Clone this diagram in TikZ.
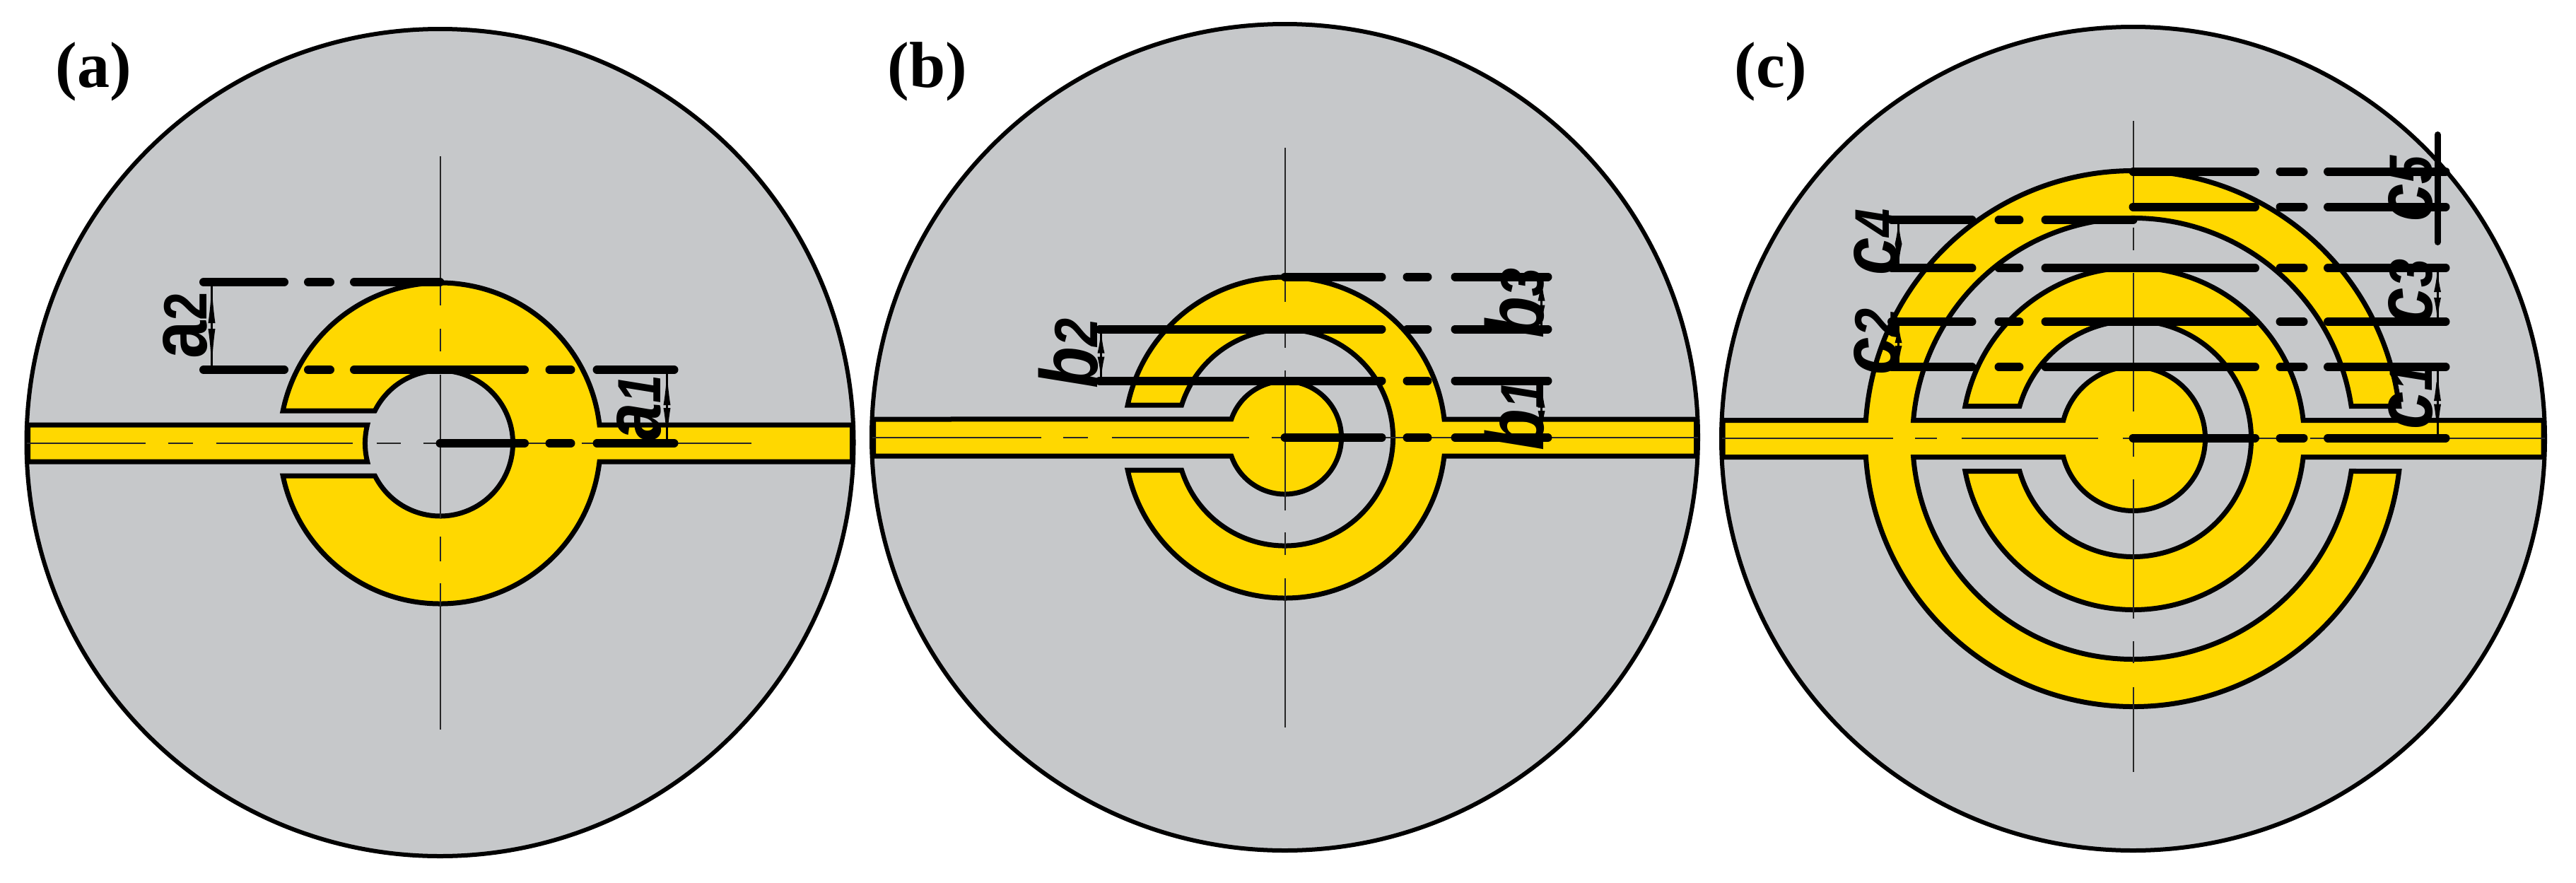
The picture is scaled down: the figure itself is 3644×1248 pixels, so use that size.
\documentclass[tikz,border=0pt]{standalone}
\usepackage{fontspec}
\setmainfont{Liberation Serif}
\setsansfont{Liberation Sans}
\usetikzlibrary{arrows.meta}
\definecolor{sub}{HTML}{C6C8CA}
\definecolor{gold}{HTML}{FFD800}
\tikzset{
  disc/.style={draw=black,fill=sub,line width=6pt},
  metal/.style={draw=black,fill=gold,line width=7pt,line join=miter},
  axis/.style={draw=black!85,line width=2pt},
  dimthick/.style={draw=black,line width=12pt,line cap=round},
  dimthin/.style={draw=black,line width=3pt,{Latex[length=#1,width=10pt]}-{Latex[length=#1,width=10pt]},postaction={draw=black,line width=3pt,-}},
  dimthin/.default=34pt,
  dimtext/.style={rotate=90,inner sep=0pt,font=\sffamily\fontsize{96}{96}\selectfont},
  paneltext/.style={inner sep=0pt,font=\rmfamily\bfseries\fontsize{92}{92}\selectfont}
}
% C-shaped ring open to the left, merged with a feed running to the right edge
\newcommand{\cring}[3]{% R, r, edge
  \pgfmathsetmacro{\As}{asin(46/#1)}
  \pgfmathsetmacro{\Bs}{asin(26/#1)}
  \pgfmathsetmacro{\Cs}{asin(46/#2)}
  \path[metal] (180+\As:#1) arc[start angle=180+\As,end angle=360-\Bs,radius=#1]
    -- (#3,-26) -- (#3,26) -- (\Bs:#1)
    arc[start angle=\Bs,end angle=180-\As,radius=#1]
    -- (180-\Cs:#2) arc[start angle=180-\Cs,end angle=-180+\Cs,radius=#2] -- cycle;
}
\newcommand{\rdash}[6]{\path[dimthick] (0,#1)--(#2,#1) (#3,#1)--(#4,#1) (#5,#1)--(#6,#1);}
\newcommand{\dimlab}[2]{\scalebox{1}[1.2]{\textbf{\textit{#1}}\textbf{\textit{\fontsize{72}{72}\selectfont #2}}}}
\newcommand{\dimlabel}[5]{\node[dimtext] (#1) at (#2,#3) {\dimlab{#4}{#5}};}
\begin{document}
\begin{tikzpicture}[x=1pt,y=1pt,yscale=-1]
\useasboundingbox (0,0) rectangle (3644,1248);
\fill[white] (0,0) rectangle (3644,1248);

%%%% panel a
\begin{scope}[shift={(622.5,627)}]
  \path[disc] (0,-1) circle[radius=585];
  \path[metal] (-583,-26) -- (-102.8,-26) arc[start angle=194.2,end angle=165.8,radius=106] -- (-583,26) -- cycle;
  \cring{227}{103}{583}
  \path[axis] (-585,0)--(-417,0) (-385,0)--(-350,0) (-317,0)--(-124,0) (-90,0)--(-56,0) (-24,0)--(168,0) (200,0)--(235,0) (267,0)--(440,0);
  \path[axis] (0,-406)--(0,-195) (0,-162)--(0,-130) (0,-97)--(0,106) (0,132)--(0,167) (0,198)--(0,405);
  \foreach \yy in {-104,-228}{
    \path[dimthick] (-334.5,\yy)--(-220.5,\yy) (-186.5,\yy)--(-155.5,\yy) (-121.5,\yy)--(0,\yy);
  }
  \rdash{-104}{119.5}{155}{185}{222}{331}
  \rdash{0}{119.5}{155}{185}{222}{331}
  \coordinate (a2t) at (-323,-228); \coordinate (a2b) at (-323,-104);
  \coordinate (a1t) at (321,-104); \coordinate (a1b) at (321,0);
  \draw[dimthin=58pt] (a2t)--(a2b);
  \draw[dimthin=50pt] (a1t)--(a1b);
  \node[dimtext] (la2) at (-360,-167) {\scalebox{1}[1.2]{\textbf{a}\textbf{\fontsize{72}{72}\selectfont 2}}};
  \dimlabel{la1}{282}{-50}{a}{1}
\end{scope}

%%%% panel b
\begin{scope}[shift={(1817.5,619)}]
  \path[disc] (0,-0.5) circle[radius=584.5];
  \path[metal] (-582,-26) -- (199:80) arc[start angle=199,end angle=521,radius=80] -- (-582,26) -- cycle;
  \cring{227}{153}{582}
  \path[axis] (-584,0)--(-345,0) (-314,0)--(-279,0) (-245,0)--(-51,0) (-19,0)--(14,0) (46,0)--(240,0) (250,0)--(584,0);
  \path[axis] (0,-410)--(0,-192) (0,-159)--(0,-127) (0,-95)--(0,103) (0,134)--(0,166) (0,199)--(0,410);
  \path[dimthick] (-262,-153.5)--(0,-153.5) (-262,-80.5)--(0,-80.5);
  \rdash{-227.5}{137}{173}{202}{241}{372}
  \rdash{-153.5}{137}{173}{202}{241}{372}
  \rdash{-80.5}{137}{173}{202}{241}{372}
  \rdash{0}{137}{173}{202}{241}{372}
  \coordinate (b3t) at (363,-227.5); \coordinate (b3b) at (363,-153.5);
  \coordinate (b1t) at (363,-80.5); \coordinate (b1b) at (363,0);
  \coordinate (b2t) at (-260,-153.5); \coordinate (b2b) at (-260,-80.5);
  \draw[dimthin] (b3t)--(b3b);
  \draw[dimthin=38pt] (b1t)--(b1b);
  \draw[dimthin] (b2t)--(b2b);
  \dimlabel{lb3}{325}{-190}{b}{3}
  \dimlabel{lb1}{325}{-31}{b}{1}
  \dimlabel{lb2}{-306}{-119}{b}{2}
\end{scope}

%%%% panel c
\begin{scope}[shift={(3017.5,620.5)}]
  \path[disc] (0,0) circle[radius=582.5];
  \pgfmathsetmacro{\Rbig}{379}\pgfmathsetmacro{\rbig}{312}
  \pgfmathsetmacro{\fout}{asin(26/\Rbig)}\pgfmathsetmacro{\finn}{asin(26/\rbig)}
  \pgfmathsetmacro{\sout}{asin(46/\Rbig)}\pgfmathsetmacro{\sinn}{asin(46/\rbig)}
  \pgfmathsetmacro{\dcore}{asin(26/102)}
  \path[metal] (-580.5,-26) -- (180+\fout:\Rbig) arc[start angle=180+\fout,end angle=360-\sout,radius=\Rbig]
    -- (360-\sinn:\rbig) arc[start angle=360-\sinn,end angle=180+\finn,radius=\rbig]
    -- (180+\dcore:102) arc[start angle=180+\dcore,end angle=540-\dcore,radius=102]
    -- (180-\finn:\rbig) arc[start angle=180-\finn,end angle=\sinn,radius=\rbig]
    -- (\sout:\Rbig) arc[start angle=\sout,end angle=180-\fout,radius=\Rbig]
    -- (-580.5,26) -- cycle;
  \cring{242}{167}{580.5}
  \path[axis] (-582,-1)--(-340,-1) (-309,-1)--(-278,-1) (-243,-1)--(-50,-1) (-15,-1)--(14,-1) (46,-1)--(240,-1) (250,-1)--(582,-1);
  \path[axis] (0,-450)--(0,-331) (0,-299)--(0,-267) (0,-235)--(0,-39) (0,-6)--(0,25) (0,57)--(0,254) (0,286)--(0,317) (0,351)--(0,471);
  \foreach \yy in {-309.5,-241.5,-165.5,-101.5}{
    \path[dimthick] (-341.5,\yy)--(-228,\yy) (-190,\yy)--(-161,\yy) (-124,\yy)--(0,\yy);
  }
  \foreach \yy in {-378,-328,-241.5,-165.5,-101.5,-1}{
    \rdash{\yy}{172.5}{208}{241}{275.5}{442}
  }
  \coordinate (c5t) at (430.5,-430); \coordinate (c5b) at (430.5,-278);
  \coordinate (c3t) at (430.5,-241.5); \coordinate (c3b) at (430.5,-165.5);
  \coordinate (c1t) at (430.5,-101.5); \coordinate (c1b) at (430.5,-1);
  \coordinate (c4t) at (-332,-309.5); \coordinate (c4b) at (-332,-241.5);
  \coordinate (c2t) at (-332,-165.5); \coordinate (c2b) at (-332,-101.5);
  \draw[dimthick,line width=9pt] (c5t)--(c5b);
  \draw[dimthin] (c3t)--(c3b);
  \draw[dimthin=48pt] (c1t)--(c1b);
  \draw[dimthin] (c4t)--(c4b);
  \draw[dimthin=30pt] (c2t)--(c2b);
  \dimlabel{lc5}{392.5}{-354}{c}{5}
  \dimlabel{lc3}{392.5}{-207}{c}{3}
  \dimlabel{lc1}{392.5}{-60}{c}{1}
  \dimlabel{lc4}{-363}{-278}{c}{4}
  \dimlabel{lc2}{-363}{-137}{c}{2}
\end{scope}

\node[paneltext] (pa) at (132,101) {(a)};
\node[paneltext] (pb) at (1312,101) {(b)};
\node[paneltext] (pc) at (2505,101) {(c)};
\end{tikzpicture}
\end{document}
